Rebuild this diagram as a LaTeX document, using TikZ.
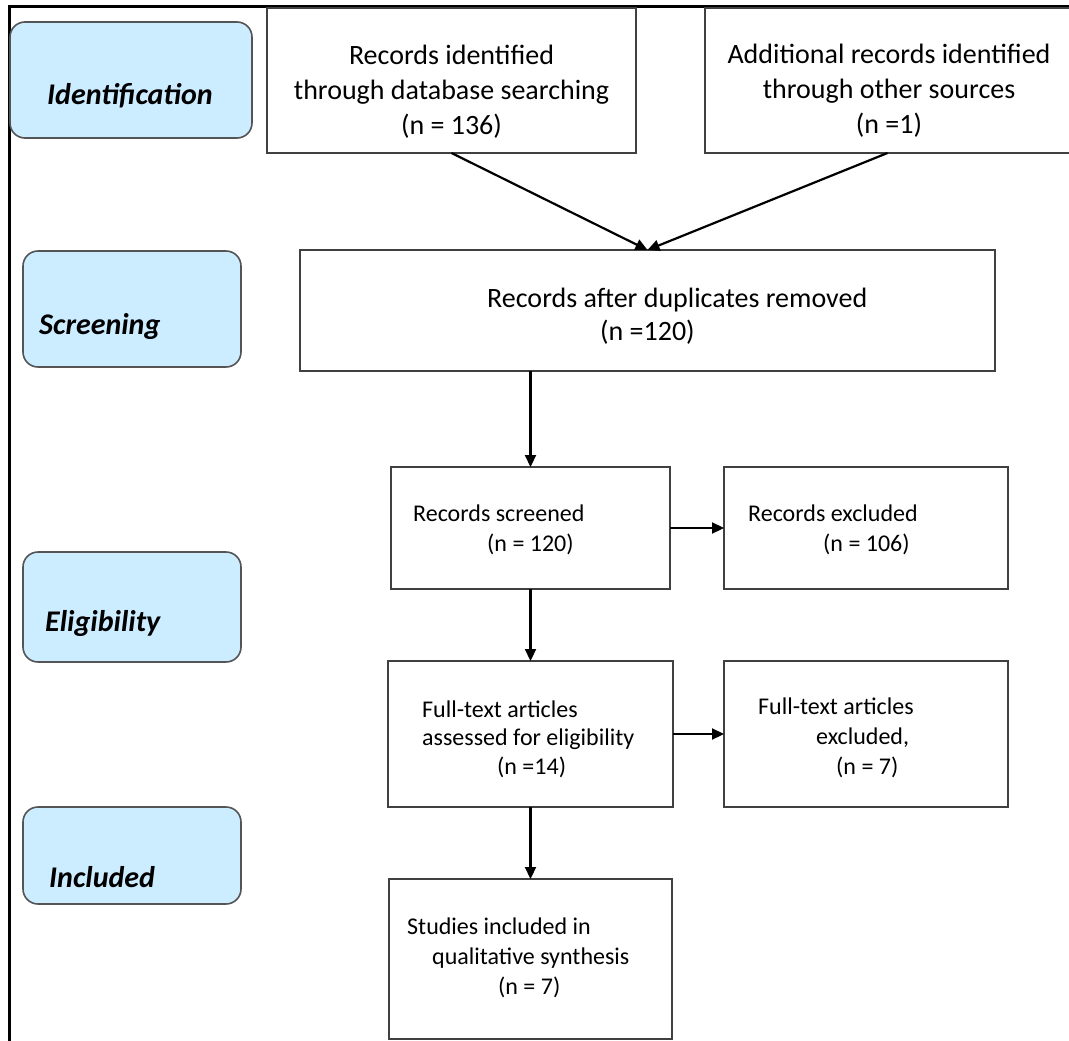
\documentclass[tikz,border=0pt]{standalone}
\usepackage{fontspec}
\setmainfont{Carlito}
\usepackage{tikz}
\usetikzlibrary{arrows.meta, positioning}

\definecolor{phasefill}{RGB}{204,236,255}
\definecolor{phaseline}{RGB}{85,85,85}
\definecolor{boxline}{RGB}{64,64,64}

\tikzset{
  phase/.style={draw=phaseline, fill=phasefill, line width=1.6pt, rounded corners=15pt, outer sep=0pt},
  phasetxt/.style={anchor=base west, inner sep=0pt, font=\fontsize{30}{36}\selectfont\bfseries\itshape},
  recbox/.style={draw=boxline, line width=2pt, outer sep=0pt},
  bigtxt/.style={inner sep=0pt, align=center, font=\fontsize{28}{35}\selectfont},
  smalltxt/.style={anchor=west, inner sep=0pt, align=left, font=\fontsize{24}{30}\selectfont},
  arr/.style={line width=2.2pt, -{Triangle[length=12pt,width=11pt]}}
}

\begin{document}
\begin{tikzpicture}[x=1pt, y=-1pt]
	\useasboundingbox (0,0) rectangle (1069,1041);
	% Frame:
	\draw[line width=3pt] (9,1041) -- (9,7) -- (1069,7);
	% Phase labels:
	\node[phase, minimum width=242pt, minimum height=116pt](ident) at (131, 80){};
	\node[phasetxt](identtxt) at (47, 104){Identification};
	\node[phase, minimum width=218pt, minimum height=116pt](screen) at (132, 309){};
	\node[phasetxt](screentxt) at (39, 334){Screening};
	\node[phase, minimum width=218pt, minimum height=110pt](elig) at (132, 607){};
	\node[phasetxt](eligtxt) at (45, 631){Eligibility};
	\node[phase, minimum width=218pt, minimum height=97pt](incl) at (132, 855.5){};
	\node[phasetxt](incltxt) at (49, 887){Included};
	% Records boxes:
	\node[recbox, minimum width=369pt, minimum height=145pt](db) at (451.5, 80.5){};
	\node[bigtxt](dbtxt) at (451.5, 92){Records identified\\through database searching\\(n = 136)};
	\node[recbox, minimum width=365pt, minimum height=145pt](other) at (887.5, 80.5){};
	\node[bigtxt](othertxt) at (889, 91){Additional records identified\\through other sources\\(n =1)};
	\node[recbox, minimum width=695pt, minimum height=121pt](dup) at (647.5, 310.5){};
	\node[bigtxt, anchor=west, align=left, font=\fontsize{28}{33}\selectfont](duptxt) at (487, 316){Records after duplicates removed\\\hspace*{113pt}(n =120)};
	\node[recbox, minimum width=279pt, minimum height=122pt](scr) at (530.5, 528){};
	\node[smalltxt](scrtxt) at (413, 530){Records screened\\\hspace*{74pt}(n = 120)};
	\node[recbox, minimum width=284pt, minimum height=122pt](exc) at (866, 528){};
	\node[smalltxt](exctxt) at (748, 530){Records excluded\\\hspace*{75pt}(n = 106)};
	\node[recbox, minimum width=285pt, minimum height=146pt](ft) at (530.5, 734){};
	\node[smalltxt, font=\fontsize{24}{28.5}\selectfont](fttxt) at (422, 739){Full-text articles\\assessed for eligibility\\\hspace*{75pt}(n =14)};
	\node[recbox, minimum width=284pt, minimum height=146pt](ftx) at (866, 734){};
	\node[smalltxt](ftxtxt) at (758, 738){Full-text articles\\\hspace*{58pt}excluded,\\\hspace*{78pt}(n = 7)};
	\node[recbox, minimum width=283pt, minimum height=160pt](stud) at (530.5, 959){};
	\node[smalltxt](studtxt) at (407, 958){Studies included in\\\hspace*{25pt}qualitative synthesis\\\hspace*{91pt}(n = 7)};
	% Arrows:
	\draw[arr] (db.south) -- (dup.north);
	\draw[arr] (other.south) -- (dup.north);
	\draw[arr] (dup.south -| scr.north) -- (scr.north);
	\draw[arr] (scr.east) -- (exc.west);
	\draw[arr] (scr.south) -- (ft.north);
	\draw[arr] (ft.east) -- (ftx.west);
	\draw[arr] (ft.south) -- (stud.north);
\end{tikzpicture}
\end{document}
